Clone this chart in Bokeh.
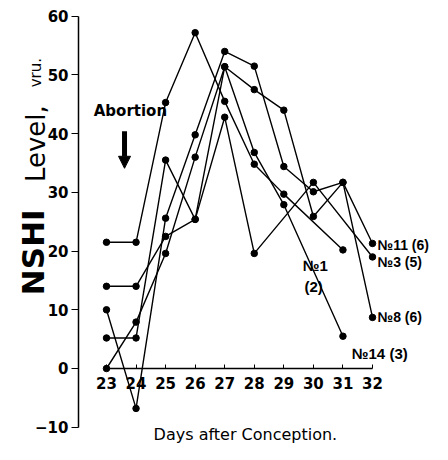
from bokeh.plotting import figure
from bokeh.models import FixedTicker, Label, Arrow, NormalHead, Range1d
from bokeh.embed import file_html
from bokeh.resources import INLINE
import math

# ---- data ----
days_no1 = [23, 24, 25, 26, 27, 28, 29, 31]
nshi_no1 = [21.5, 21.5, 45.3, 57.2, 45.5, 34.8, 29.7, 20.2]

days_no14 = [23, 24, 25, 26, 27, 28, 29, 31]
nshi_no14 = [14.0, 14.0, 22.5, 25.4, 51.4, 36.8, 27.9, 5.5]

days_no3 = [23, 24, 25, 26, 27, 28, 30, 32]
nshi_no3 = [5.2, 5.2, 35.5, 25.4, 42.8, 19.6, 31.7, 19.0]

days_no11 = [23, 24, 25, 26, 27, 28, 29, 30, 31, 32]
nshi_no11 = [0.0, 7.9, 19.6, 36.0, 51.4, 47.5, 44.0, 25.9, 31.7, 21.3]

days_no8 = [23, 24, 25, 26, 27, 28, 29, 30, 31, 32]
nshi_no8 = [10.0, -6.8, 25.6, 39.8, 54.0, 51.5, 34.4, 30.1, 31.7, 8.7]

x_ticks = [23, 24, 25, 26, 27, 28, 29, 30, 31, 32]
y_ticks = [-10, 0, 10, 20, 30, 40, 50, 60]

series = [
    (days_no1, nshi_no1),
    (days_no14, nshi_no14),
    (days_no3, nshi_no3),
    (days_no11, nshi_no11),
    (days_no8, nshi_no8),
]

FONT = "DejaVu Sans"
LFONT = "Liberation Sans"

p = figure(width=432, height=444, output_backend="svg", toolbar_location=None,
           x_range=Range1d(19.414, 34.03), y_range=Range1d(-12.945, 62.68),
           min_border_left=0, min_border_right=0, min_border_top=0, min_border_bottom=0)
p.outline_line_color = None
p.xgrid.visible = False
p.ygrid.visible = False
p.background_fill_color = "white"
p.border_fill_color = "white"

for xs, ys in series:
    p.line(xs, ys, line_color="black", line_width=1.4)
    p.scatter(xs, ys, size=6.5, color="black")

# x axis drawn at y = 0
p.xaxis.fixed_location = 0
p.xaxis.ticker = FixedTicker(ticks=x_ticks)
p.xaxis.bounds = (23, 32)
p.xaxis.major_tick_in = 4
p.xaxis.major_tick_out = 0
p.xaxis.minor_tick_line_color = None
p.xaxis.major_label_standoff = 9
p.xaxis.major_label_text_font = FONT
p.xaxis.major_label_text_font_style = "bold"
p.xaxis.major_label_text_font_size = "15px"
p.xaxis.major_label_text_color = "black"
p.xaxis.axis_line_width = 1.5

# y axis drawn at day 22.05 (left edge of the data area)
p.yaxis.fixed_location = 22.053
p.yaxis.ticker = FixedTicker(ticks=y_ticks)
p.yaxis.bounds = (-10, 60)
p.yaxis.major_tick_in = 0
p.yaxis.major_tick_out = 7
p.yaxis.minor_tick_line_color = None
p.yaxis.major_label_standoff = 3
p.yaxis.major_label_text_font = FONT
p.yaxis.major_label_text_font_style = "bold"
p.yaxis.major_label_text_font_size = "15px"
p.yaxis.major_label_text_color = "black"
p.yaxis.axis_line_width = 1.5

def lab(x, y, t, size, align="left", angle=0.0, style="bold", font=FONT, baseline="middle"):
    p.add_layout(Label(x=x, y=y, text=t, text_font=font, text_font_size=size,
                       text_font_style=style, text_align=align, text_baseline=baseline,
                       angle=angle, text_color="black"))

lab(23.81, 43.8, "Abortion", "15px", align="center")
p.add_layout(Arrow(x_start=23.61, y_start=40.4, x_end=23.61, y_end=34.1,
                   line_width=5, line_color="black",
                   end=NormalHead(size=12, fill_color="black", line_color="black")))

lab(29.64, 17.6, "№1", "15px", font=LFONT)
lab(29.70, 14.0, "(2)", "15px", font=LFONT)
lab(32.17, 21.1, "№11 (6)", "14px", font=LFONT)
lab(32.17, 18.1, "№3 (5)", "14px", font=LFONT)
lab(32.17, 8.8, "№8 (6)", "14px", font=LFONT)
lab(31.30, 2.6, "№14 (3)", "15px", font=LFONT)

lab(27.7, -11.3, "Days after Conception.", "16px", align="center", style="normal")

# rotated y-axis title, written in three parts like the reference
lab(20.53, 19.8, "NSHI", "31px", align="center", angle=math.pi / 2, baseline="alphabetic")
lab(20.60, 38.3, "Level,", "26px", align="center", angle=math.pi / 2, style="normal",
    baseline="alphabetic")
lab(20.60, 50.4, "vru.", "15px", align="center", angle=math.pi / 2, style="normal",
    baseline="alphabetic")

open("out.html", "w").write(file_html(p, INLINE))
